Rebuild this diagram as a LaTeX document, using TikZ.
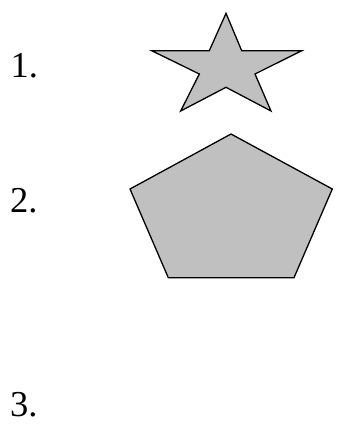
\documentclass[tikz,border=0pt]{standalone}
\usepackage{fontspec}
\setmainfont{Liberation Serif}
\definecolor{shapegray}{HTML}{C0C0C0}
\begin{document}
\begin{tikzpicture}[x=1pt,y=-1pt,
  shapestyle/.style={draw=black,fill=shapegray,line width=1.3pt,line join=miter},
  numlabel/.style={anchor=base west,inner sep=0pt,font=\fontsize{36.5}{40}\selectfont}]
\useasboundingbox (0,0) rectangle (342,446);
\node[numlabel] (l1) at (10.5,77.7) {1.};
\node[numlabel] (l2) at (10,212.5) {2.};
\node[numlabel] (l3) at (10,416) {3.};
\draw[shapestyle] (226,13.3) -- (241.7,50.7) -- (301.7,50.7) -- (255,74) -- (271,111)
  -- (226,87.3) -- (180.7,111) -- (199.3,74) -- (151.7,50.7) -- (209.3,50.7) -- cycle;
\draw[shapestyle] (231,134) -- (332.3,189) -- (294,277.7) -- (168.3,277.7) -- (130,189) -- cycle;
\end{tikzpicture}
\end{document}
